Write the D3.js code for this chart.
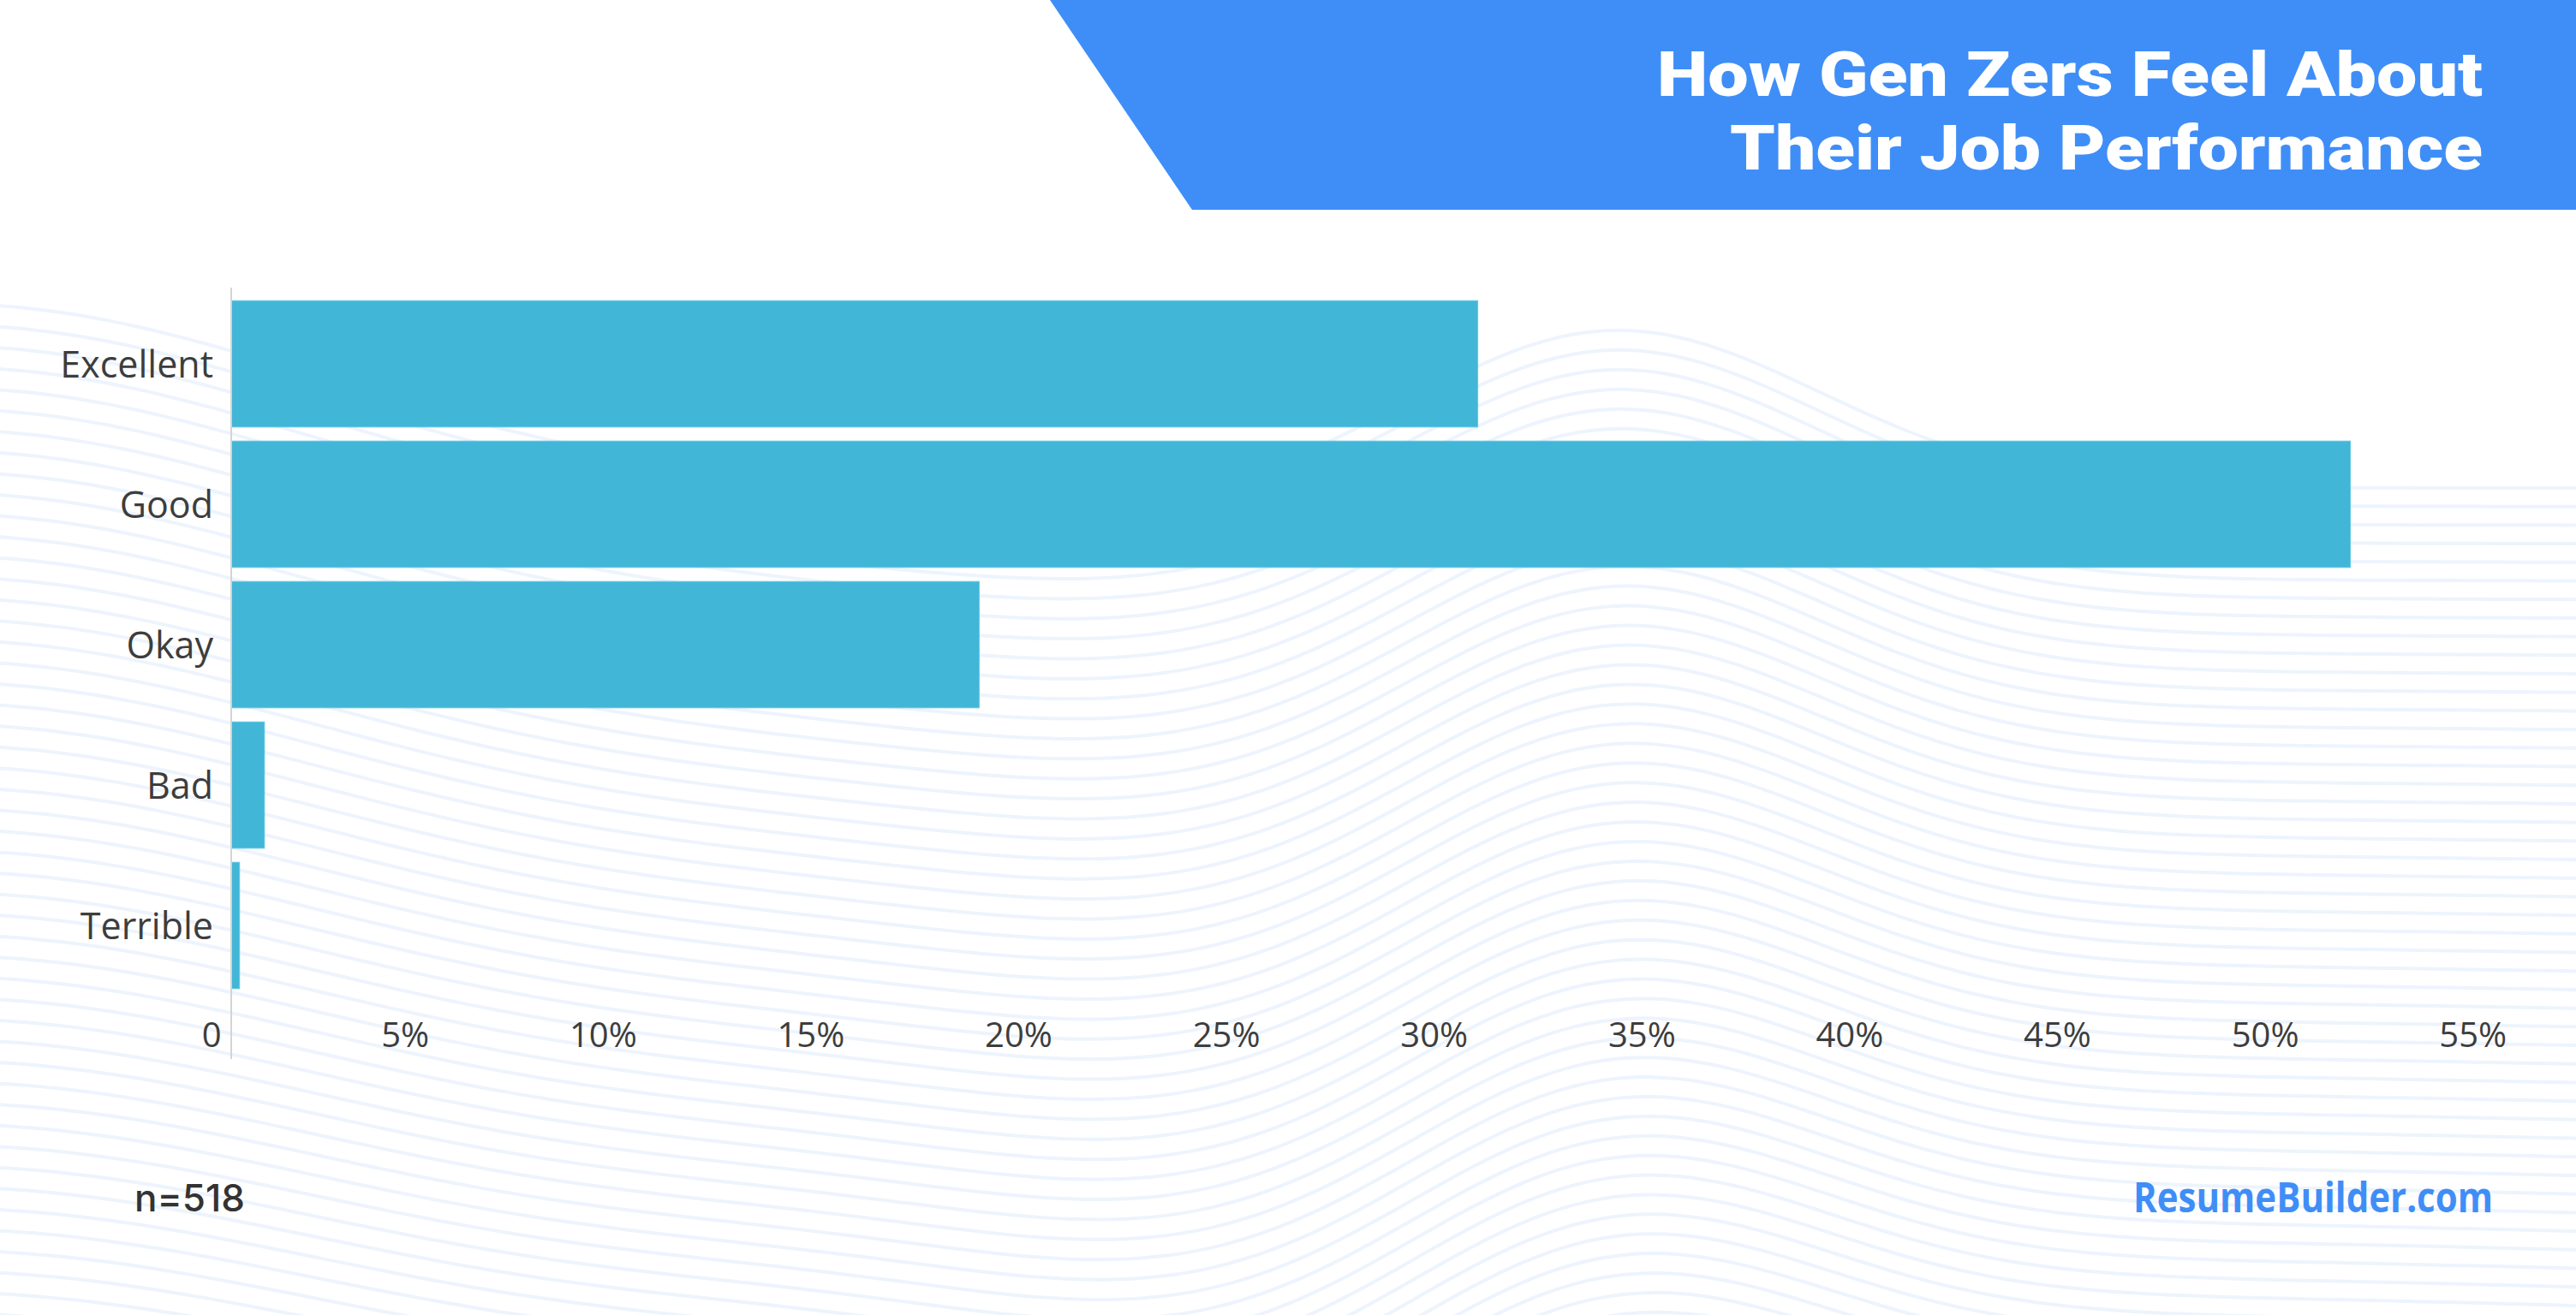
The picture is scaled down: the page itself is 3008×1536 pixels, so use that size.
<!DOCTYPE html>
<html lang='en'>
  <head>
    <style type='text/css'>
      html, body {margin: 0; padding: 0; background-color: #fff;}
      #visualization {width: 3008px; height: 1536px; overflow: hidden;}
    </style>
  </head>
  <body>

    <div id='visualization'>
      <svg width='3008' height='1536'></svg>
    </div>

    <script src='https://d3js.org/d3.v7.min.js'></script>
    <script type='text/javascript'>
        // data
        var categories = ["Excellent", "Good", "Okay", "Bad", "Terrible"];
        var shares     = [30.0, 51.0, 18.0, 0.8, 0.2];
        var tickValues = [0, 5, 10, 15, 20, 25, 30, 35, 40, 45, 50, 55];
        var tickLabels = ["0", "5%", "10%", "15%", "20%", "25%", "30%", "35%", "40%", "45%", "50%", "55%"];
        var titleLines = ["How Gen Zers Feel About", "Their Job Performance"];
        var sampleNote = "n=518";
        var brand      = "ResumeBuilder.com";

        var svg = d3.select("#visualization svg");

        // background waves (decoration only)
        var waves = svg.append("g");
        var gauss = function(x, c, s) { return Math.exp(-((x - c) * (x - c)) / (2 * s * s)); };
        var wave = d3.line().curve(d3.curveBasis);
        for (var b = 570; b < 1900; b += 22) {
          var depth = (b - 570) / 1330;
          var pts = [];
          for (var px = -20; px <= 3030; px += 30) {
            var yy = b
              - 215 * gauss(px, -60, 430) * (1 - 0.7 * depth)
              - 190 * gauss(px, 1880, 240) * (1 - 0.3 * depth)
              + 80 * gauss(px, 1400, 280) * (0.3 + depth)
              + 40 * gauss(px, 700, 350) * depth
              - 30 * depth * gauss(px, 2500, 500);
            pts.push([px, yy]);
          }
          waves.append("path")
            .attr("d", wave(pts))
            .attr("fill", "none")
            .attr("stroke", "#edf4fd")
            .attr("stroke-width", 4);
        }

        // title banner
        svg.append("path")
          .attr("d", "M1226,0 L3008,0 L3008,245 L1392,245 Z")
          .attr("fill", "#3f8ef7");
        var titleWidths = [964, 879];
        svg.selectAll(".title")
          .data(titleLines)
          .enter().append("text")
            .attr("class", "title")
            .attr("x", 2899)
            .attr("y", function(d, i) { return 112 + i * 86; })
            .attr("text-anchor", "end")
            .attr("textLength", function(d, i) { return titleWidths[i]; })
            .attr("lengthAdjust", "spacingAndGlyphs")
            .attr("fill", "#fff")
            .style("font-family", "Roboto, 'Open Sans', sans-serif")
            .style("font-weight", 900)
            .style("font-size", "73px")
            .text(function(d) { return d; });

        // scales
        var x = d3.scaleLinear().domain([0, 55]).range([270, 2938.6]);
        var y = d3.scaleBand().domain(categories).range([343, 1163])
          .paddingInner(0.1).paddingOuter(0.05);

        var data = categories.map(function(c, i) { return {cat: c, v: shares[i]}; });

        // bars
        svg.selectAll(".bar")
          .data(data)
          .enter().append("rect")
            .attr("class", "bar")
            .attr("x", x(0))
            .attr("y", function(d) { return y(d.cat); })
            .attr("width", function(d) { return x(d.v) - x(0); })
            .attr("height", y.bandwidth())
            .attr("fill", "#42b6d6")
            .attr("stroke", "#62c6e4")
            .attr("stroke-width", 1);

        // value axis line
        svg.append("line")
          .attr("x1", x(0)).attr("x2", x(0))
          .attr("y1", 336).attr("y2", 1237)
          .attr("stroke", "#d4d4d4")
          .attr("stroke-width", 2);

        // left axis
        var gy = svg.append("g")
          .attr("transform", "translate(" + x(0) + ",0)")
          .call(d3.axisLeft(y).tickSize(0).tickPadding(21));
        gy.select(".domain").remove();
        gy.selectAll("text")
          .attr("dy", "0.38em")
          .attr("fill", "#3d3d3d")
          .style("font-family", "'Open Sans', sans-serif")
          .style("font-size", "43px");

        // bottom axis
        var gx = svg.append("g")
          .attr("transform", "translate(0,1223)")
          .call(d3.axisBottom(x).tickValues(tickValues).tickSize(0)
            .tickFormat(function(d, i) { return tickLabels[i]; }));
        gx.select(".domain").remove();
        gx.selectAll("text")
          .attr("y", 0).attr("dy", 0).attr("x", -12)
          .attr("text-anchor", "end")
          .attr("fill", "#3d3d3d")
          .style("font-family", "'Open Sans', sans-serif")
          .style("font-size", "40px");

        // footer
        svg.append("text")
          .attr("x", 157).attr("y", 1415)
          .attr("fill", "#333")
          .style("font-family", "Inter, sans-serif")
          .style("font-weight", 500)
          .style("font-size", "44px")
          .text(sampleNote);

        svg.append("text")
          .attr("x", 2911).attr("y", 1416)
          .attr("text-anchor", "end")
          .attr("fill", "#3f8ef7")
          .attr("textLength", 420)
          .attr("lengthAdjust", "spacingAndGlyphs")
          .style("font-family", "'Open Sans', sans-serif")
          .style("font-weight", 700)
          .style("font-size", "48px")
          .text(brand);
    </script>
  </body>
</html>
